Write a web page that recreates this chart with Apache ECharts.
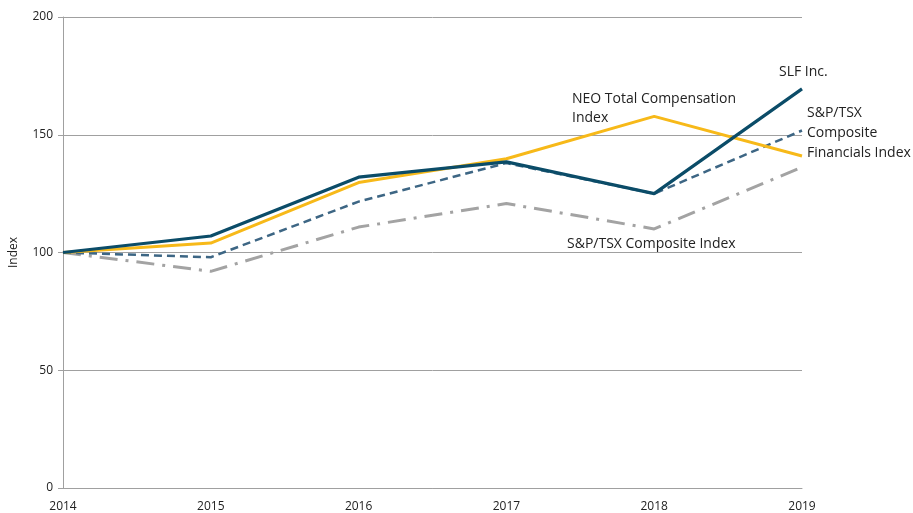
<!DOCTYPE html>
<html><head><meta charset="utf-8">
<script src="https://cdn.jsdelivr.net/npm/echarts@6/dist/echarts.min.js"></script>
<style>html,body{margin:0;padding:0;background:#fff}#c{width:913px;height:513px}</style>
</head><body><div id="c"></div>
<script>
const years = ['2014','2015','2016','2017','2018','2019'];
const slf = [100, 107, 132, 138.5, 125, 169.5];
const neo = [100, 104, 129.7, 139.8, 157.8, 141];
const financials = [100, 98, 121.6, 138, 125, 151.8];
const composite = [100, 92, 110.8, 120.8, 110, 136.2];
const yTicks = [0, 50, 100, 150, 200];

const font = '"Open Sans", "Noto Sans", sans-serif';
const chart = echarts.init(document.getElementById('c'));
chart.setOption({
  animation: false,
  grid: {left: 62, right: 111, top: 17, bottom: 24, containLabel: false},
  xAxis: {
    type: 'category', data: years, boundaryGap: false,
    axisLine: {show: true, lineStyle: {color: '#a0a0a0', width: 1}},
    axisTick: {show: false},
    axisLabel: {color: '#222', fontFamily: font, fontSize: 12, margin: 13}
  },
  yAxis: {
    type: 'value', min: yTicks[0], max: yTicks[yTicks.length-1], interval: 50,
    name: 'Index', nameLocation: 'middle', nameGap: 43, nameRotate: 90,
    nameTextStyle: {color: '#222', fontFamily: font, fontSize: 12},
    axisLine: {show: true, lineStyle: {color: '#a0a0a0', width: 1}},
    axisTick: {show: true, length: 5, lineStyle: {color: '#a0a0a0'}},
    axisLabel: {color: '#222', fontFamily: font, fontSize: 12, margin: 10},
    splitLine: {show: true, lineStyle: {color: '#a0a0a0', width: 1}}
  },
  series: [
    {name: 'S&P/TSX Composite Index', type: 'line', data: composite, symbol: 'none',
     lineStyle: {color: '#a3a3a3', width: 3, type: [18, 8, 3, 8]}},
    {name: 'S&P/TSX Composite Financials Index', type: 'line', data: financials, symbol: 'none',
     lineStyle: {color: '#3d6684', width: 2.5, type: [8, 5]}},
    {name: 'NEO Total Compensation Index', type: 'line', data: neo, symbol: 'none',
     lineStyle: {color: '#f7b919', width: 3}},
    {name: 'SLF Inc.', type: 'line', data: slf, symbol: 'none',
     lineStyle: {color: '#0b4c68', width: 3.2}}
  ],
  graphic: [
    {type: 'text', left: 779, top: 65, style: {text: 'SLF Inc.', fill: '#222', font: '14px ' + font}},
    {type: 'text', left: 572, top: 90, style: {text: 'NEO Total Compensation\nIndex', fill: '#222', font: '14px ' + font, lineHeight: 19}},
    {type: 'text', left: 807, top: 103, style: {text: 'S&P/TSX\nComposite\nFinancials Index', fill: '#222', font: '14px ' + font, lineHeight: 20}},
    {type: 'text', left: 567, top: 237, style: {text: 'S&P/TSX Composite Index', fill: '#222', font: '14px ' + font}}
  ]
});
</script></body></html>
